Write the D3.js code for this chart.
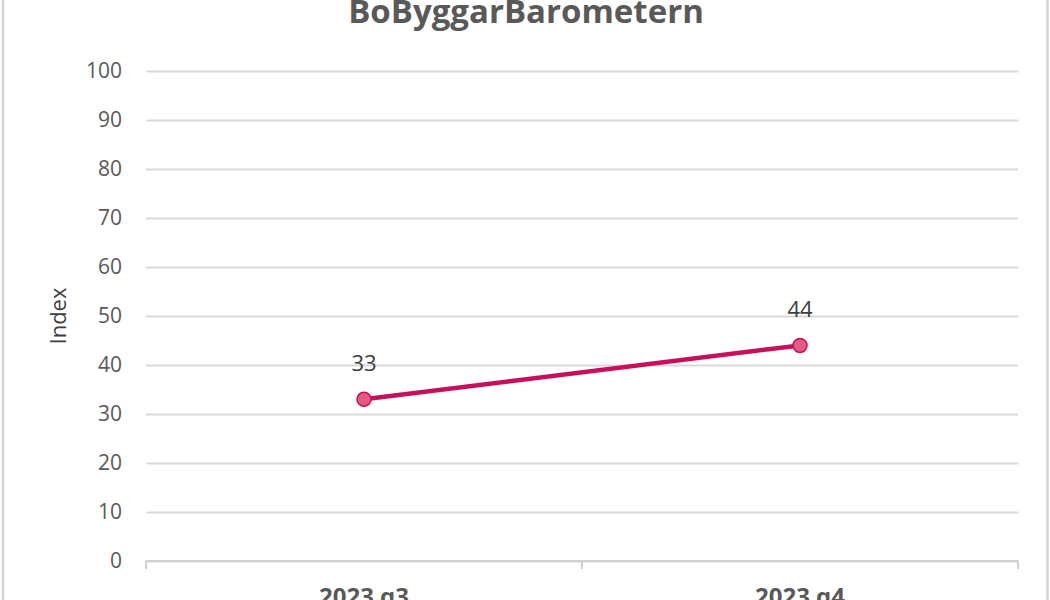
<!DOCTYPE html>
<html><head><meta charset="utf-8">
<script src="https://cdn.jsdelivr.net/npm/d3@7"></script>
<style>html,body{margin:0;padding:0;background:#fff;overflow:hidden}</style>
</head><body>
<svg id="c" width="1050" height="600"></svg>
<script>
const categories = ["2023 q3", "2023 q4"];
const values = [33, 44];
const yTicks = [0,10,20,30,40,50,60,70,80,90,100];
const title = "BoByggarBarometern";
const yLabel = "Index";

const svg = d3.select("#c");
const W = 1050, H = 600;
const m = {left:146, right:1018, top:71, bottom:561};
const font = "'Open Sans', 'Liberation Sans', sans-serif";

svg.append("rect").attr("x",0).attr("y",0).attr("width",W).attr("height",H).attr("fill","#fff");
// chart border
svg.append("line").attr("x1",3).attr("x2",3).attr("y1",0).attr("y2",H).attr("stroke","#d4d4d4").attr("stroke-width",2.5);
svg.append("line").attr("x1",1047.5).attr("x2",1047.5).attr("y1",0).attr("y2",H).attr("stroke","#d4d4d4").attr("stroke-width",2.5);

const x = d3.scaleBand().domain(categories).range([m.left, m.right]);
const y = d3.scaleLinear().domain([0,100]).range([m.bottom, m.top]);

// gridlines
const yAxis = d3.axisLeft(y).tickValues(yTicks).tickSize(-(m.right-m.left)).tickPadding(24);
const gy = svg.append("g").attr("transform",`translate(${m.left},0)`).call(yAxis);
gy.select(".domain").remove();
gy.selectAll(".tick line").attr("stroke","#d9d9d9").attr("stroke-width",2);
gy.selectAll(".tick text").attr("fill","#595959").style("font-family",font).style("font-size","21px");

// x axis
const xAxis = d3.axisBottom(x).tickSize(0).tickPadding(27);
const gx = svg.append("g").attr("transform",`translate(0,${m.bottom})`).call(xAxis);
gx.select(".domain").remove();
gx.selectAll(".tick text").attr("fill","#595959").style("font-family",font).style("font-size","24px").style("font-weight","bold");
svg.append("line").attr("x1",m.left).attr("x2",m.right).attr("y1",m.bottom).attr("y2",m.bottom).attr("stroke","#d0d0d0").attr("stroke-width",2);
// category boundary ticks
const bounds = [m.left, ...categories.slice(1).map(c=>x(c)), m.right];
svg.selectAll(".bt").data(bounds).enter().append("line")
  .attr("x1",d=>d).attr("x2",d=>d).attr("y1",m.bottom).attr("y2",m.bottom+8)
  .attr("stroke","#d0d0d0").attr("stroke-width",2);

// title
svg.append("text").attr("x",526).attr("y",23).attr("text-anchor","middle")
  .attr("fill","#595959").style("font-family",font).style("font-size","33px").style("font-weight","bold").text(title);

// y label
svg.append("text").attr("transform","translate(66,316) rotate(-90)").attr("text-anchor","middle")
  .attr("fill","#404040").style("font-family",font).style("font-size","22px").text(yLabel);

// line
const cx = d => x(d) + x.bandwidth()/2;
const line = d3.line().x((d,i)=>cx(categories[i])).y(d=>y(d));
svg.append("path").datum(values).attr("d",line).attr("fill","none").attr("stroke","#c8105a").attr("stroke-width",4.5);
svg.selectAll(".pt").data(values).enter().append("circle")
  .attr("cx",(d,i)=>cx(categories[i])).attr("cy",d=>y(d)).attr("r",7)
  .attr("fill","#e25b80").attr("stroke","#c8105a").attr("stroke-width",1.5);
svg.selectAll(".lbl").data(values).enter().append("text")
  .attr("x",(d,i)=>cx(categories[i])).attr("y",d=>y(d)-28).attr("text-anchor","middle")
  .attr("fill","#404040").style("font-family",font).style("font-size","22px").text(d=>d);
</script>
</body></html>
